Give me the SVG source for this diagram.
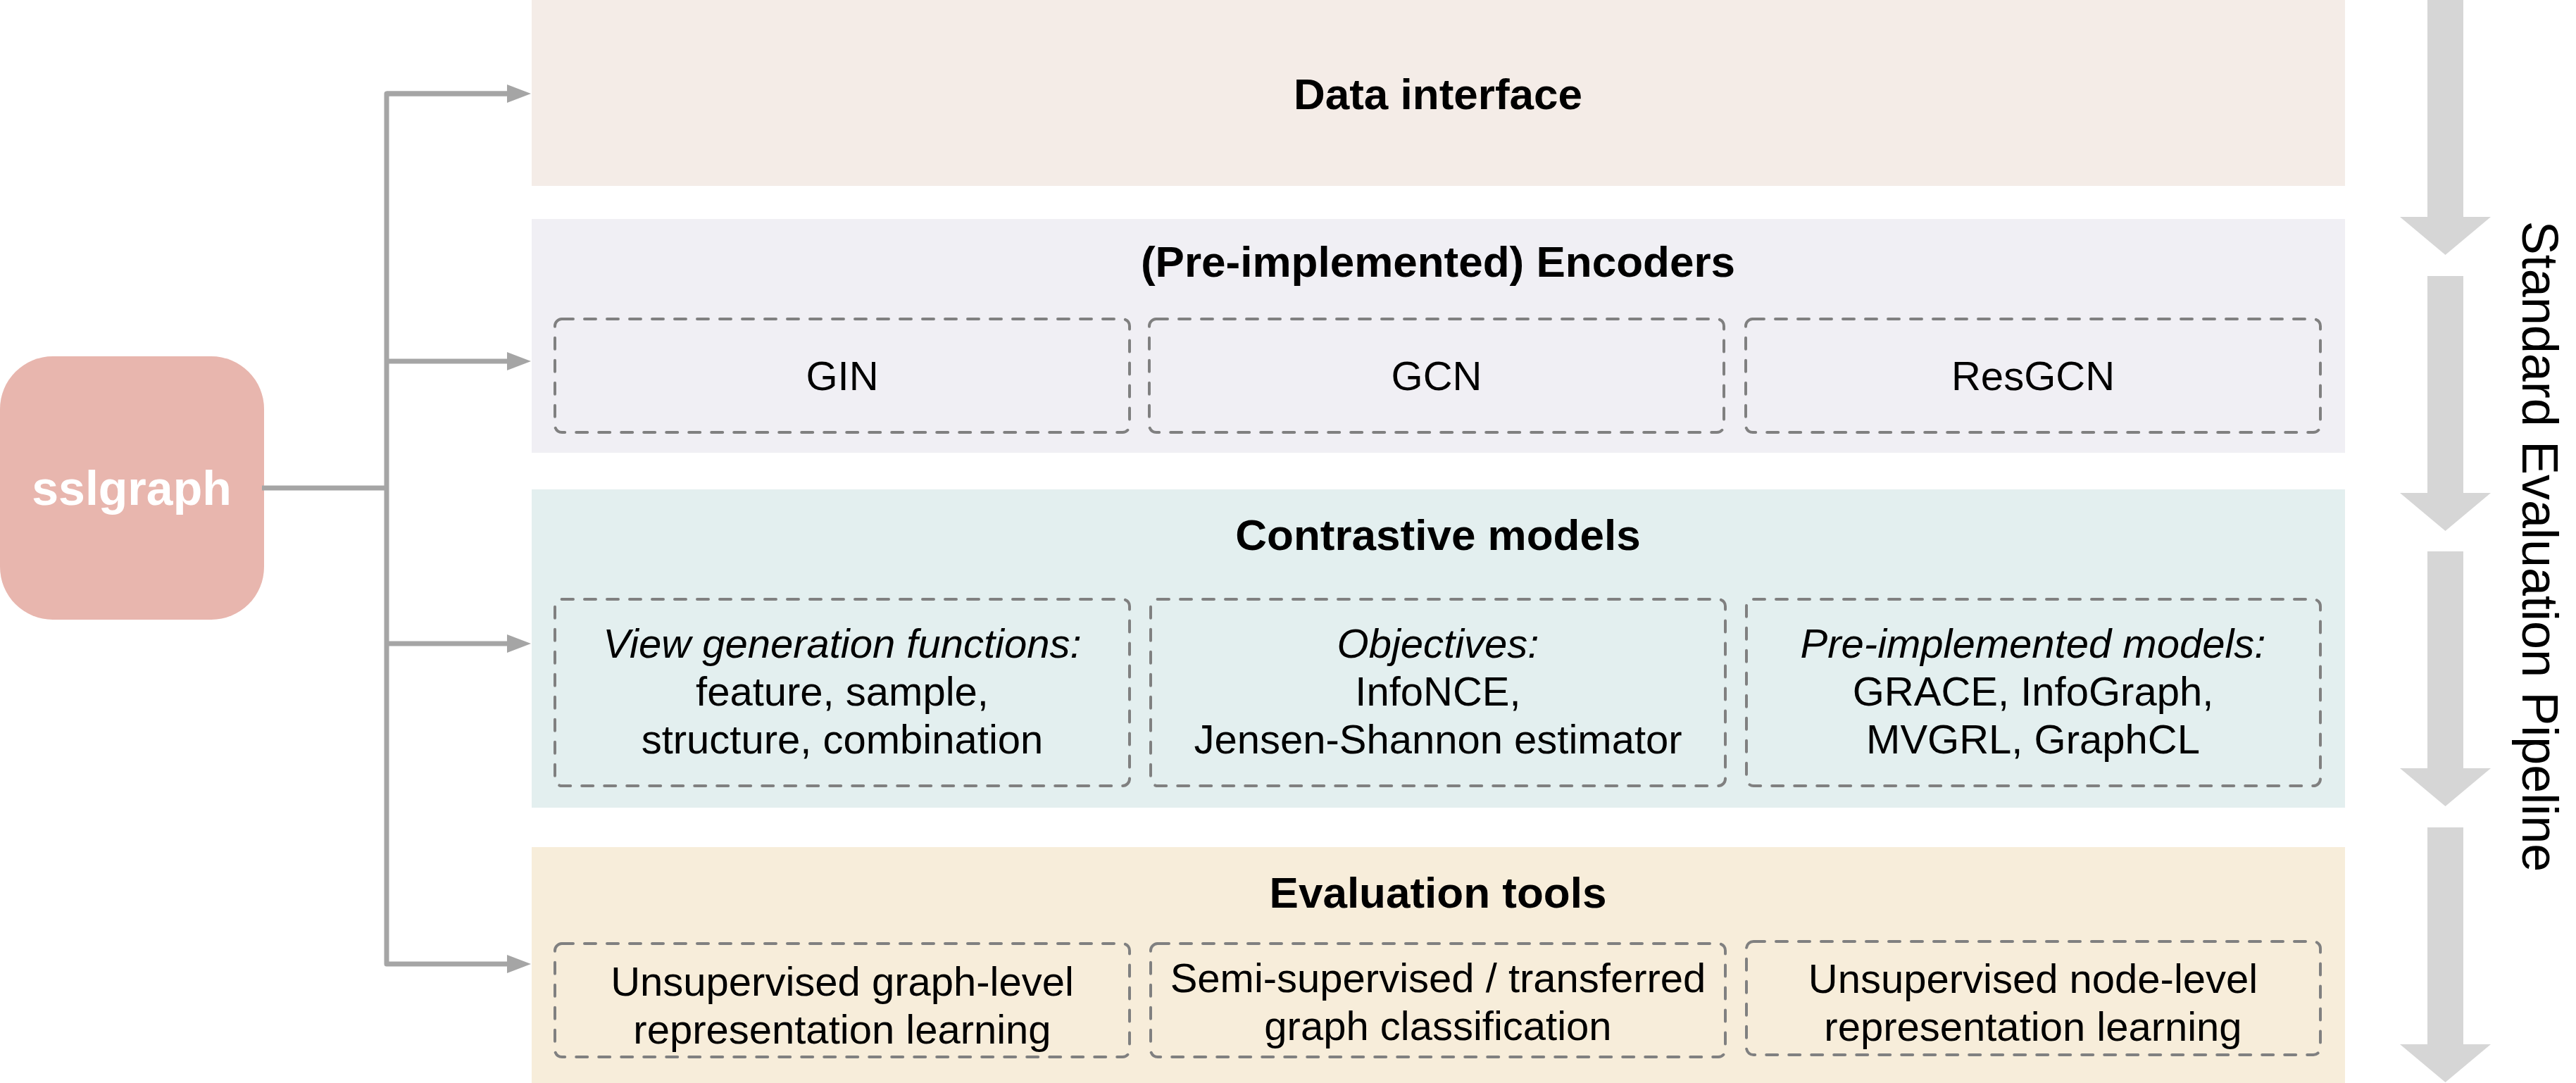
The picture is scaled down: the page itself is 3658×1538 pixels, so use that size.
<svg xmlns="http://www.w3.org/2000/svg" width="3658" height="1538" viewBox="0 0 3658 1538">
<style>
  .t { font-family: "Liberation Sans", Arial, Helvetica, sans-serif; fill: #000; text-anchor: middle; }
  .title { font-size: 62px; font-weight: bold; }
  .item { font-size: 58px; }
  .it { font-style: italic; }
  .dash { fill: none; stroke: #808080; stroke-width: 4; stroke-dasharray: 16 16; stroke-linecap: round; }
  .conn { fill: none; stroke: #A5A5A5; stroke-width: 7; stroke-linejoin: round; }
  .big { fill: #D6D6D6; }
</style>
<defs>
  <marker id="ah" viewBox="0 -13 34 26" refX="4" refY="0" markerWidth="34" markerHeight="26" markerUnits="userSpaceOnUse" orient="auto">
    <path d="M0,-13 L34,0 L0,13 z" fill="#A5A5A5"/>
  </marker>
  <path id="bigArrow" d="M-25.5,0 H25.5 V308 H64.5 L0,362 L-64.5,308 H-25.5 z"/>
</defs>
<rect width="3658" height="1538" fill="#FFFFFF"/>

<g id="pipeline-arrows" class="big">
  <use href="#bigArrow" transform="translate(3472.5,0)"/>
  <use href="#bigArrow" transform="translate(3472.5,392)"/>
  <use href="#bigArrow" transform="translate(3472.5,783)"/>
  <use href="#bigArrow" transform="translate(3472.5,1175)"/>
</g>
<text class="t" style="font-size:72px" x="3582" y="776" transform="rotate(90 3582 776)">Standard Evaluation Pipeline</text>

<g id="data-interface">
  <rect x="755" y="0" width="2575" height="264" fill="#F4ECE7"/>
  <text class="t title" x="2042" y="155">Data interface</text>
</g>

<g id="encoders">
  <rect x="755" y="311" width="2575" height="332" fill="#F0EFF4"/>
  <text class="t title" x="2042" y="393">(Pre-implemented) Encoders</text>
  <g id="enc-gin">
    <rect class="dash" x="788" y="453" width="816" height="161" rx="10"/>
    <text class="t item" x="1196" y="554">GIN</text>
  </g>
  <g id="enc-gcn">
    <rect class="dash" x="1632" y="453" width="816" height="161" rx="10"/>
    <text class="t item" x="2040" y="554">GCN</text>
  </g>
  <g id="enc-resgcn">
    <rect class="dash" x="2479" y="453" width="816" height="161" rx="10"/>
    <text class="t item" x="2887" y="554">ResGCN</text>
  </g>
</g>

<g id="contrastive">
  <rect x="755" y="695" width="2575" height="452" fill="#E3EFEF"/>
  <text class="t title" x="2042" y="781">Contrastive models</text>
  <g id="con-view">
    <rect class="dash" x="788" y="851" width="816" height="265" rx="10"/>
    <text class="t item" x="1196" y="934"><tspan class="it" x="1196">View generation functions:</tspan><tspan x="1196" dy="68">feature, sample,</tspan><tspan x="1196" dy="68">structure, combination</tspan></text>
  </g>
  <g id="con-obj">
    <rect class="dash" x="1634" y="851" width="816" height="265" rx="10"/>
    <text class="t item" x="2042" y="934"><tspan class="it" x="2042">Objectives:</tspan><tspan x="2042" dy="68">InfoNCE,</tspan><tspan x="2042" dy="68">Jensen-Shannon estimator</tspan></text>
  </g>
  <g id="con-models">
    <rect class="dash" x="2480" y="851" width="815" height="265" rx="10"/>
    <text class="t item" x="2887" y="934"><tspan class="it" x="2887">Pre-implemented models:</tspan><tspan x="2887" dy="68">GRACE, InfoGraph,</tspan><tspan x="2887" dy="68">MVGRL, GraphCL</tspan></text>
  </g>
</g>

<g id="evaluation">
  <rect x="755" y="1203" width="2575" height="335" fill="#F7EDDA"/>
  <text class="t title" x="2042" y="1289">Evaluation tools</text>
  <g id="eval-graph">
    <rect class="dash" x="788" y="1340" width="816" height="161" rx="10"/>
    <text class="t item" x="1196" y="1414"><tspan x="1196">Unsupervised graph-level</tspan><tspan x="1196" dy="68">representation learning</tspan></text>
  </g>
  <g id="eval-semi">
    <rect class="dash" x="1634" y="1340" width="816" height="161" rx="10"/>
    <text class="t item" x="2042" y="1409"><tspan x="2042">Semi-supervised / transferred</tspan><tspan x="2042" dy="68">graph classification</tspan></text>
  </g>
  <g id="eval-node">
    <rect class="dash" x="2480" y="1337" width="815" height="161" rx="10"/>
    <text class="t item" x="2887" y="1410"><tspan x="2887">Unsupervised node-level</tspan><tspan x="2887" dy="68">representation learning</tspan></text>
  </g>
</g>

<g id="sslgraph">
  <rect x="0" y="506" width="375" height="374" rx="75" fill="#E8B6AE"/>
  <text class="t" x="187" y="717" style="font-size:68px;font-weight:bold;fill:#FFFFFF">sslgraph</text>
</g>

<g id="connectors" class="conn">
  <path d="M372,693 H549"/>
  <path d="M724,133 H549 V1369 H724" marker-end="url(#ah)"/>
  <path d="M549,133 H724" marker-end="url(#ah)"/>
  <path d="M549,513 H724" marker-end="url(#ah)"/>
  <path d="M549,914 H724" marker-end="url(#ah)"/>
</g>
</svg>
